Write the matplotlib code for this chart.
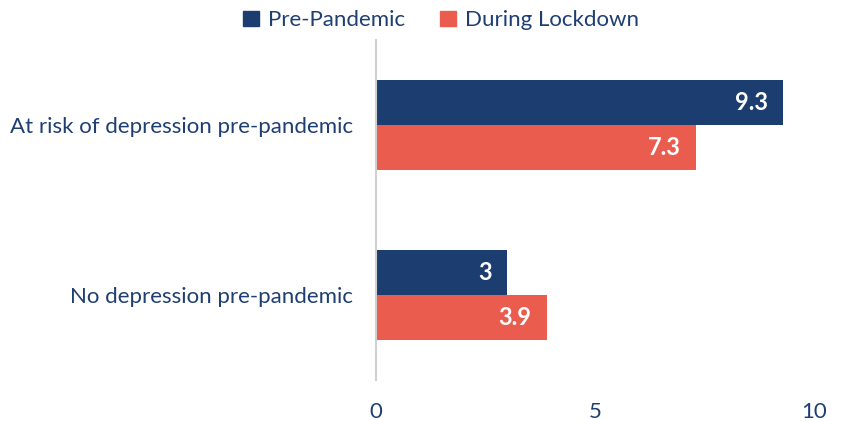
import numpy as np
import matplotlib.pyplot as plt
from matplotlib.patches import Patch

# depression risk scores by group
categories = ['At risk of depression pre-pandemic', 'No depression pre-pandemic']
pre_pandemic = [9.3, 3]
during_lockdown = [7.3, 3.9]
series_names = ['Pre-Pandemic', 'During Lockdown']

navy = '#1C3D6F'
coral = '#EA5D4E'
text_col = '#1F3F73'

plt.rcParams['font.family'] = ['Lato', 'DejaVu Sans']

fig = plt.figure(figsize=(8.43, 4.21), dpi=100)
ax = fig.add_axes([0.446, 0.0974, 0.5196, 0.8076])

y = np.arange(len(categories))[::-1]
h = 0.265

b1 = ax.barh(y + h / 2, pre_pandemic, height=h, color=navy)
b2 = ax.barh(y - h / 2, during_lockdown, height=h, color=coral)

# value labels inside the bar ends
for bars, vals in [(b1, pre_pandemic), (b2, during_lockdown)]:
    for bar, v in zip(bars, vals):
        ax.text(bar.get_width() - 0.35, bar.get_y() + bar.get_height() / 2,
                f'{v:g}', ha='right', va='center', color='white',
                fontsize=17, fontweight='bold')

ax.set_xlim(0, 10)
ax.set_ylim(-0.5, 1.5)
ax.set_xticks([0, 5, 10])
ax.set_yticks(y)
ax.set_yticklabels(categories)
ax.tick_params(axis='both', length=0, labelsize=16, colors=text_col)
ax.tick_params(axis='x', pad=16)
ax.tick_params(axis='y', pad=16.5)

for side in ['top', 'right', 'bottom']:
    ax.spines[side].set_visible(False)
ax.spines['left'].set_color('#D0D0D0')
ax.spines['left'].set_linewidth(1.5)

handles = [Patch(color=navy), Patch(color=coral)]
fig.legend(handles, series_names, loc='center', bbox_to_anchor=(0.523, 0.952),
           ncol=2, frameon=False, fontsize=16, labelcolor=text_col,
           handlelength=0.7, handleheight=0.7, handletextpad=0.4, columnspacing=1.6)

fig.savefig('out.png', dpi=100)
